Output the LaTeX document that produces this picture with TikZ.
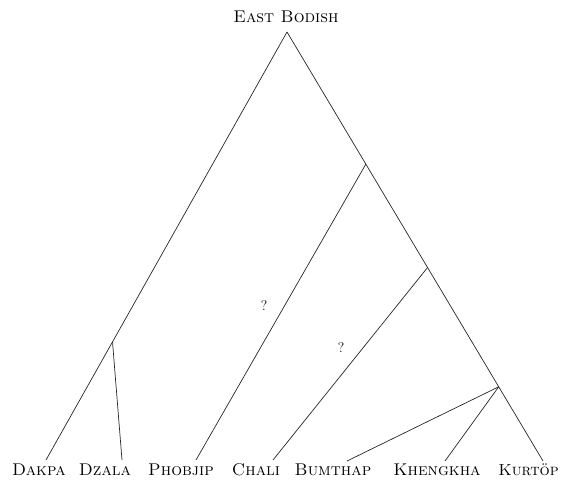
\documentclass[tikz,border=0pt]{standalone}
\usepackage{fontspec}
\usetikzlibrary{calc}
\begin{document}
\begin{tikzpicture}[x=1pt,y=-1pt,
  branch/.style={draw=black!85,line width=0.7pt},
  leaf/.style={anchor=base,inner sep=0pt,font=\fontsize{17}{20}\selectfont\scshape},
  qmark/.style={anchor=base,inner sep=0pt,font=\fontsize{14}{16}\selectfont}]
\useasboundingbox (0,0) rectangle (561,481);
% labels
\node[leaf] (root) at (286,23) {East Bodish};
\node[leaf] (dakpa) at (39,475) {Dakpa};
\node[leaf] (dzala) at (105,475) {Dzala};
\node[leaf] (phobjip) at (181,475) {Phobjip};
\node[leaf] (chali) at (256,475) {Chali};
\node[leaf] (bumthap) at (333,475) {Bumthap};
\node[leaf] (khengkha) at (437,475) {Khengkha};
\node[leaf,anchor=base east,font=\fontsize{16}{20}\selectfont\scshape] (kurtop) at (559,475) {Kurtöp};
\node[qmark] (q1) at (264,310) {?};
\node[qmark] (q2) at (341,352) {?};
% points
\coordinate (A) at (287,32);
\coordinate (eDakpa) at (46,460);
\coordinate (eDzala) at (122,460);
\coordinate (ePhobjip) at (196,460);
\coordinate (eChali) at (273,460);
\coordinate (eBumthap) at (347,461);
\coordinate (eKhengkha) at (445,461);
\coordinate (eKurtop) at (543,461);
\coordinate (n1) at ($(A)!0.724!(eDakpa)$);
\coordinate (n2) at ($(A)!0.308!(eKurtop)$);
\coordinate (n3) at ($(A)!0.549!(eKurtop)$);
\coordinate (n4) at ($(A)!0.827!(eKurtop)$);
% branches
\draw[branch] (A) -- (eDakpa);
\draw[branch] (A) -- (eKurtop);
\draw[branch] (n1) -- (eDzala);
\draw[branch] (n2) -- (ePhobjip);
\draw[branch] (n3) -- (eChali);
\draw[branch] (n4) -- (eBumthap);
\draw[branch] (n4) -- (eKhengkha);
\end{tikzpicture}
\end{document}
